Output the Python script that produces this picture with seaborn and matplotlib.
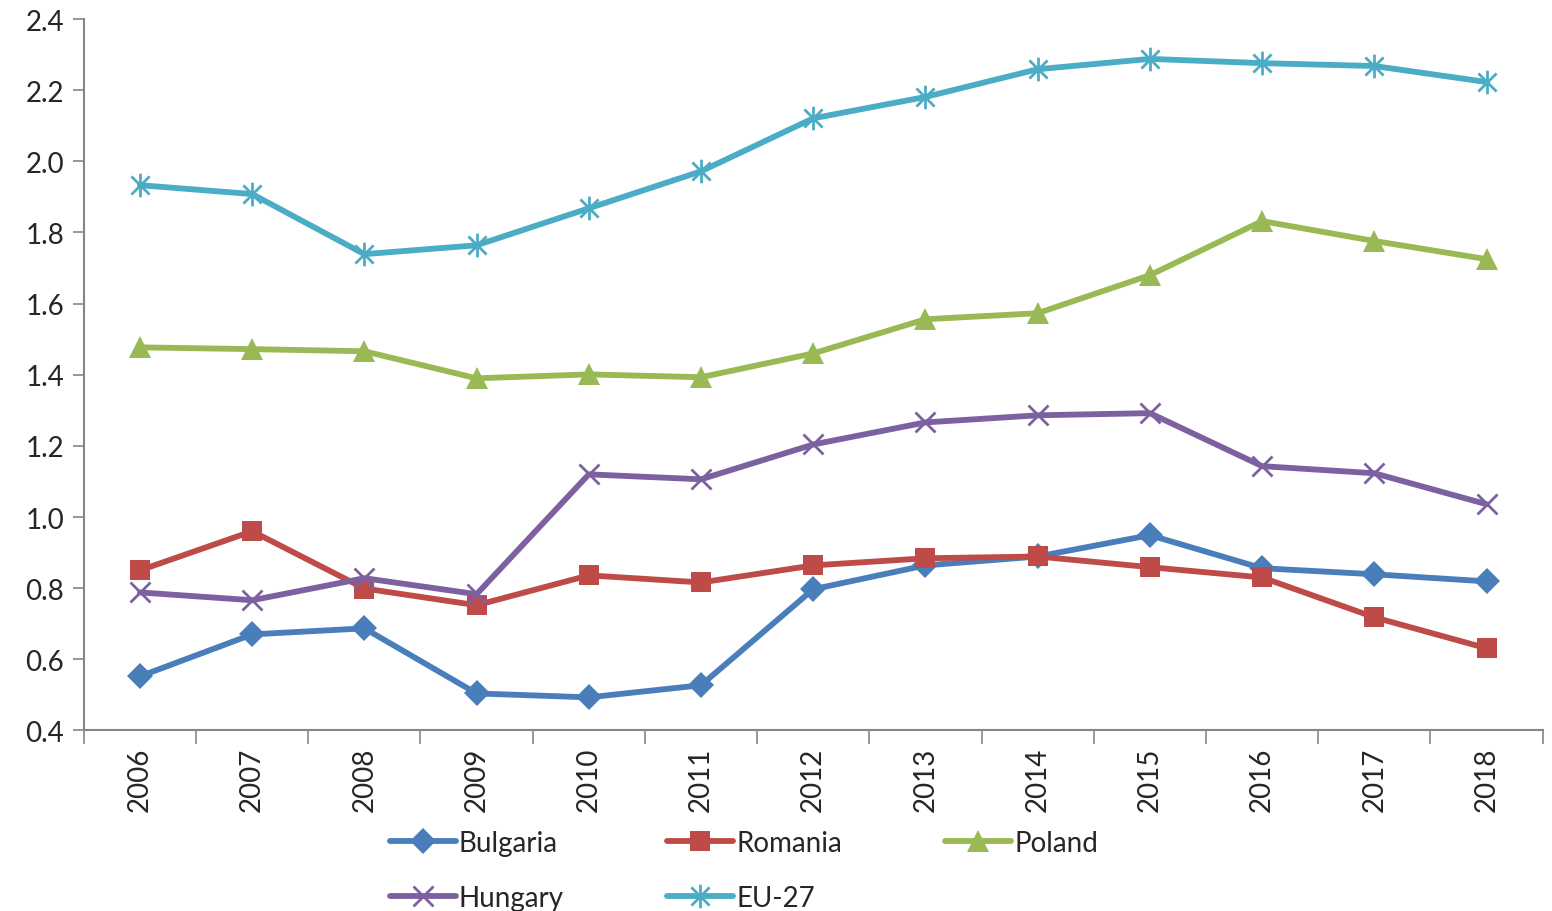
import numpy as np
import pandas as pd
import matplotlib
matplotlib.use("Agg")
import matplotlib.pyplot as plt
from matplotlib.path import Path
import seaborn as sns

years = ["2006", "2007", "2008", "2009", "2010", "2011", "2012",
         "2013", "2014", "2015", "2016", "2017", "2018"]

bulgaria = [0.552, 0.670, 0.687, 0.504, 0.493, 0.527, 0.797,
            0.864, 0.889, 0.949, 0.856, 0.839, 0.819]
romania = [0.850, 0.960, 0.799, 0.752, 0.836, 0.816, 0.864,
           0.884, 0.889, 0.859, 0.830, 0.718, 0.631]
poland = [1.477, 1.472, 1.466, 1.390, 1.401, 1.393, 1.460,
          1.556, 1.573, 1.680, 1.832, 1.776, 1.725]
hungary = [0.788, 0.766, 0.828, 0.783, 1.120, 1.106, 1.204,
           1.266, 1.286, 1.292, 1.143, 1.123, 1.036]
eu27 = [1.933, 1.908, 1.739, 1.764, 1.868, 1.972, 2.121,
        2.181, 2.259, 2.288, 2.276, 2.268, 2.223]

# excel style asterisk: an x with a vertical bar
star = Path([(-1, -1), (1, 1), (-1, 1), (1, -1), (0, -1.3), (0, 1.3)],
            [Path.MOVETO, Path.LINETO, Path.MOVETO, Path.LINETO, Path.MOVETO, Path.LINETO])

series = [
    ("Bulgaria", bulgaria, "#4a7ebb", "D", 13, None),
    ("Romania", romania, "#be4b48", "s", 14, None),
    ("Poland", poland, "#98b954", "^", 16, None),
    ("Hungary", hungary, "#7d60a0", "x", 15, 2),
    ("EU-27", eu27, "#4bacc6", star, 17, 2),
]

sns.set_style("white")
plt.rcParams["font.family"] = ["Lato", "DejaVu Sans"]

fig = plt.figure(figsize=(15.52, 9.12), dpi=100)
ax = fig.add_axes([0.054, 0.198, 0.94, 0.780])

pos = np.arange(len(years))
for name, vals, col, mk, ms, mew in series:
    d = pd.DataFrame({"x": pos, "y": vals})
    kw = dict(markeredgecolor=col, markerfacecolor=col)
    kw["markeredgewidth"] = mew if mew else 0
    sns.lineplot(data=d, x="x", y="y", ax=ax, color=col, marker=mk,
                 markersize=ms, linewidth=4.2, label=name, **kw)

ax.set_xlim(-0.5, len(years) - 0.5)
ax.set_ylim(0.4, 2.4)
ax.set_yticks(np.arange(0.4, 2.41, 0.2))
ax.set_yticklabels([f"{v:.1f}" for v in np.arange(0.4, 2.41, 0.2)])

ax.set_xticks(np.arange(-0.5, len(years), 1.0))
ax.set_xticklabels([])
ax.set_xticks(pos, minor=True)
ax.set_xticklabels(years, minor=True, rotation=90)
ax.tick_params(axis="x", which="major", direction="out", length=10, width=1.2, color="#868686", bottom=True)
ax.tick_params(axis="x", which="minor", length=0, labelsize=20, pad=12)
ax.tick_params(axis="y", direction="out", length=8, width=1.2, color="#868686", left=True, labelsize=20, pad=6)
ax.set_xlabel("")
ax.set_ylabel("")

for s in ["top", "right"]:
    ax.spines[s].set_visible(False)
for s in ["left", "bottom"]:
    ax.spines[s].set_color("#868686")
    ax.spines[s].set_linewidth(1.5)

handles, labels = ax.get_legend_handles_labels()
ax.legend_.remove()
# legend fills column-first, so reorder to get rows B R P / H E
order = [0, 3, 1, 4, 2]
fig.legend([handles[i] for i in order], [labels[i] for i in order],
           loc="upper left", bbox_to_anchor=(0.251, 0.089),
           ncol=3, frameon=False, fontsize=20, handlelength=2.4,
           handletextpad=0.1, columnspacing=3.7, labelspacing=1.05,
           borderaxespad=0, borderpad=0)

fig.savefig("out.png", dpi=100)
